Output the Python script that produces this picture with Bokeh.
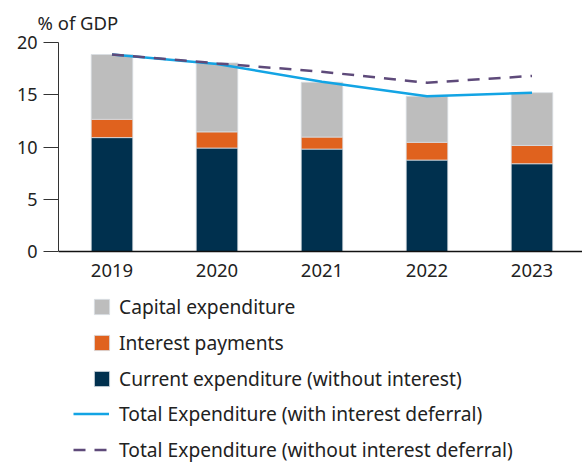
from bokeh.plotting import figure
from bokeh.models import Range1d, FixedTicker, Legend, LegendItem, ColumnDataSource
from bokeh.embed import file_html
from bokeh.resources import INLINE

years = [2019, 2020, 2021, 2022, 2023]
current_exp = [10.9, 9.9, 9.8, 8.75, 8.4]
interest_pay = [1.75, 1.55, 1.15, 1.7, 1.75]
capital_exp = [6.2, 6.6, 5.25, 4.4, 5.05]
total_with_deferral = [18.85, 17.95, 16.25, 14.85, 15.2]
total_without_deferral = [18.85, 18.0, 17.2, 16.15, 16.8]
y_ticks = [0, 5, 10, 15, 20]

FONT = "Noto Sans"
NAVY = "#00304E"
ORANGE = "#E0621E"
GRAY = "#BDBDBD"
BLUE = "#13A4E4"
PURPLE = "#5E4A7A"

src = ColumnDataSource(dict(year=years, current=current_exp, interest=interest_pay, capital=capital_exp,
                            tw=total_with_deferral, two=total_without_deferral))

W, H = 582, 463
LEFT, TOP = 58, 42
px_per_unit = (251 - 42) / 20.0
frame_h = H - TOP
ymin = 20 - frame_h / px_per_unit
xstart = 2019 - (111.5 - LEFT) / 105.0
xend = xstart + (W - LEFT) / 105.0

p = figure(width=W, height=H, output_backend="svg", toolbar_location=None,
           x_range=Range1d(xstart, xend), y_range=Range1d(ymin, 20),
           min_border_left=LEFT, min_border_right=0, min_border_top=TOP, min_border_bottom=0)
p.outline_line_color = None
p.grid.visible = False
p.background_fill_color = "white"

bars = p.vbar_stack(["current", "interest", "capital"], x="year", width=0.396, source=src,
                    color=[NAVY, ORANGE, GRAY], line_color="#d8dde2", line_width=0.8)
l1 = p.line("year", "tw", source=src, line_color=BLUE, line_width=2.5)
l2 = p.line("year", "two", source=src, line_color=PURPLE, line_width=2.5, line_dash="12 9")

# title
p.title.text = "% of GDP"
p.title.align = "left"
p.title.vertical_align = "top"
p.title.offset = -21
p.title.text_font = FONT
p.title.text_font_size = "18.5px"
p.title.text_font_style = "normal"
p.title.text_color = "#222222"
p.title.standoff = 12

# axes
ya = p.yaxis[0]
ya.ticker = FixedTicker(ticks=y_ticks)
ya.bounds = (0, 20)
ya.minor_tick_line_color = None
ya.major_tick_out = 15
ya.major_tick_in = 0
ya.axis_line_color = "#333333"
ya.major_tick_line_color = "#333333"
ya.major_label_text_font = FONT
ya.major_label_text_font_size = "18px"
ya.major_label_text_color = "#222222"
ya.major_label_standoff = 6

xa = p.xaxis[0]
xa.fixed_location = 0
xa.ticker = FixedTicker(ticks=years)
xa.minor_tick_line_color = None
xa.major_tick_out = 0
xa.major_tick_in = 0
xa.axis_line_color = "#111111"
xa.axis_line_width = 1.3
xa.major_label_text_font = FONT
xa.major_label_text_font_size = "18.5px"
xa.major_label_text_color = "#222222"
xa.major_label_standoff = 12

def style_legend(lg):
    lg.padding = 0
    lg.margin = 0
    lg.border_line_color = None
    lg.background_fill_alpha = 0
    lg.label_text_font = FONT
    lg.label_text_font_size = "19.2px"
    lg.label_text_color = "#222222"
    lg.label_height = 26
    lg.spacing = 9
    lg.label_text_baseline = "middle"

leg1 = Legend(items=[LegendItem(label="Capital expenditure", renderers=[bars[2]]),
                     LegendItem(label="Interest payments", renderers=[bars[1]]),
                     LegendItem(label="Current expenditure (without interest)", renderers=[bars[0]])],
              location=(34, 71), glyph_width=19, glyph_height=19, label_standoff=8)
style_legend(leg1)
leg2 = Legend(items=[LegendItem(label="Total Expenditure (with interest deferral)", renderers=[l1]),
                     LegendItem(label="Total Expenditure (without interest deferral)", renderers=[l2])],
              location=(15, 0), glyph_width=36, glyph_height=19, label_standoff=10)
style_legend(leg2)
p.add_layout(leg1, "center")
p.add_layout(leg2, "center")

open("out.html", "w").write(file_html(p, INLINE))
